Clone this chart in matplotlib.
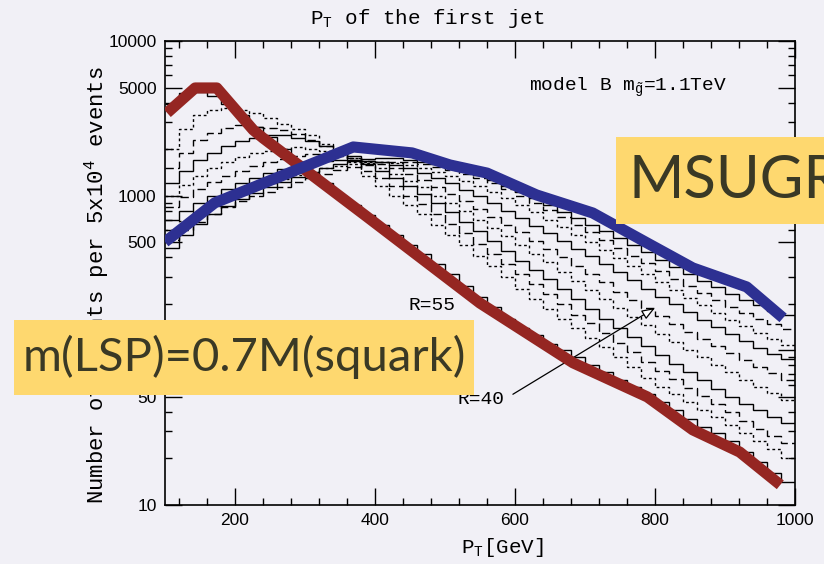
import numpy as np
import matplotlib
matplotlib.use('Agg')
import matplotlib.pyplot as plt
from matplotlib.patches import Rectangle
from matplotlib.ticker import LogLocator, NullFormatter

# bins: 20 GeV from 100 to 1000 GeV
pt_edges = np.arange(100, 1001, 20)

# jet pT histograms (events per bin), softest -> hardest
h0 = [3900, 4600, 4700, 4400, 3900, 3300, 2800, 2400, 2000, 1650, 1400, 1200, 1000, 870, 750,
      650, 560, 480, 420, 360, 310, 260, 220, 190, 160, 140, 125, 110, 100, 90,
      80, 72, 64, 58, 52, 46, 41, 36, 32, 29, 26, 22, 19, 16, 14]
h1 = [2000, 2700, 3300, 3600, 3700, 3600, 3400, 3200, 2900, 2700, 2450, 2150, 1900, 1650, 1350,
      1150, 1000, 870, 760, 650, 560, 480, 410, 350, 300, 250, 215, 185, 160, 140,
      120, 105, 90, 78, 66, 58, 52, 46, 41, 37, 33, 29, 26, 23, 20]
h2 = [1500, 1900, 2300, 2550, 2750, 2850, 2800, 2750, 2650, 2500, 2300, 2100, 1900, 1700, 1450,
      1300, 1150, 1000, 880, 760, 660, 570, 490, 420, 360, 310, 270, 230, 200, 170,
      150, 130, 112, 97, 84, 73, 65, 57, 51, 45, 40, 35, 31, 28, 25]
h3 = [1200, 1450, 1700, 1900, 2100, 2250, 2350, 2450, 2450, 2350, 2250, 2100, 1950, 1800, 1600,
      1450, 1300, 1150, 1020, 900, 780, 680, 590, 510, 440, 380, 330, 290, 250, 215,
      185, 160, 140, 122, 106, 93, 82, 72, 64, 56, 50, 45, 41, 37, 34]
h4 = [1000, 1180, 1350, 1500, 1650, 1780, 1880, 1950, 2000, 2050, 2000, 1950, 1850, 1750, 1620,
      1500, 1380, 1250, 1130, 1000, 900, 800, 700, 620, 550, 480, 420, 370, 320, 280,
      245, 215, 188, 165, 145, 128, 113, 100, 90, 80, 72, 64, 58, 53, 48]
h5 = [850, 980, 1100, 1230, 1350, 1450, 1550, 1650, 1720, 1800, 1850, 1850, 1800, 1750, 1680,
      1600, 1500, 1380, 1260, 1140, 1030, 920, 820, 730, 650, 580, 510, 450, 400, 350,
      310, 275, 240, 212, 188, 166, 148, 132, 118, 106, 96, 86, 78, 71, 64]
h6 = [700, 800, 900, 1000, 1100, 1200, 1300, 1400, 1480, 1560, 1620, 1680, 1700, 1700, 1680,
      1650, 1580, 1500, 1400, 1300, 1200, 1090, 990, 890, 800, 720, 640, 570, 510, 455,
      405, 360, 320, 285, 250, 222, 198, 176, 158, 142, 128, 115, 104, 95, 88]
h7 = [600, 690, 780, 860, 950, 1030, 1120, 1200, 1280, 1360, 1430, 1500, 1560, 1610, 1640,
      1650, 1620, 1570, 1500, 1420, 1340, 1250, 1150, 1050, 960, 870, 780, 700, 630, 560,
      500, 445, 395, 350, 310, 275, 245, 218, 195, 175, 158, 143, 130, 118, 108]
h8 = [520, 600, 680, 760, 840, 920, 990, 1060, 1140, 1220, 1300, 1380, 1460, 1530, 1590,
      1640, 1660, 1640, 1600, 1540, 1470, 1390, 1300, 1200, 1100, 1000, 900, 810, 730, 650,
      580, 515, 460, 410, 365, 325, 290, 260, 235, 212, 192, 175, 160, 148, 138]
h9 = [460, 560, 660, 760, 860, 950, 1040, 1130, 1220, 1320, 1420, 1520, 1600, 1680, 1730,
      1750, 1740, 1710, 1660, 1600, 1530, 1450, 1360, 1260, 1160, 1060, 960, 870, 790, 720,
      650, 590, 530, 480, 430, 385, 345, 310, 280, 255, 232, 212, 195, 180, 168]
hists = [h0, h1, h2, h3, h4, h5, h6, h7, h8, h9]
styles = ['-', (0, (2, 2)), (0, (6, 3)), '-', (0, (2, 2)), (0, (6, 3)),
          '-', (0, (2, 2)), (0, (6, 3)), '-']

# hand drawn overlay curves
red_x = [103, 143, 174, 226, 240, 389, 550, 683, 789, 854, 921, 979]
red_y = [3430, 4970, 4970, 2660, 2360, 728, 202, 83, 50, 30.6, 22, 13.5]
blue_x = [100, 171, 369, 453, 507, 560, 631, 711, 789, 854, 931, 983]
blue_y = [502, 898, 2065, 1890, 1580, 1400, 1010, 773, 494, 341, 257, 162]

y_ticks = [10, 50, 100, 500, 1000, 5000, 10000]
y_labels = ['10', '50', '100', '500', '1000', '5000', '10000']
x_ticks = [200, 400, 600, 800, 1000]

bg = '#f1f0f6'
serif = 'Liberation Mono'
plt.rcParams['mathtext.fontset'] = 'custom'
plt.rcParams['mathtext.rm'] = serif
plt.rcParams['mathtext.it'] = serif + ':italic'
plt.rcParams['mathtext.bf'] = serif + ':bold'

fig = plt.figure(figsize=(8.24, 5.64), dpi=100, facecolor=bg)
ax = fig.add_axes([165 / 824, 1 - 505 / 564, 630 / 824, 464 / 564])
ax.set_facecolor('none')

for h, ls in zip(hists, styles):
    ax.stairs(h, pt_edges, color='black', lw=1.0, linestyle=ls, baseline=None)

ax.plot(red_x, red_y, color='#952622', lw=8, solid_joinstyle='round',
        solid_capstyle='butt', zorder=4)
ax.plot(blue_x, blue_y, color='#2d3092', lw=8, solid_joinstyle='round',
        solid_capstyle='butt', zorder=4)

ax.set_yscale('log')
ax.set_xlim(100, 1000)
ax.set_ylim(10, 10000)
ax.set_yticks(y_ticks)
ax.set_yticklabels(y_labels)
ax.yaxis.set_minor_locator(LogLocator(base=10, subs=np.arange(2, 10)))
ax.yaxis.set_minor_formatter(NullFormatter())
ax.set_xticks(x_ticks)
ax.set_xticks(np.arange(120, 1000, 40), minor=True)
ax.tick_params(which='both', direction='in', top=True, right=True, width=1.0)
ax.tick_params(which='major', length=12, pad=6, labelsize=12.5)
ax.tick_params(which='minor', length=5)
for lab in ax.get_xticklabels() + ax.get_yticklabels():
    lab.set_family('Liberation Sans')
for s in ax.spines.values():
    s.set_linewidth(1.2)

ax.set_ylabel('Number of events per 5x10$^4$ events', family=serif, fontsize=16)
ax.yaxis.set_label_coords(-0.085, 0.474)
ax.set_xlabel('P$_{\\rm T}$[GeV]', family=serif, fontsize=15)
ax.xaxis.set_label_coords((502 - 165) / 630, -0.066)

fig.text(427 / 824, 1 - 18 / 564, 'P$_{\\rm T}$ of the first jet', family=serif,
         fontsize=15, ha='center', va='center')
ax.text(0.735, 0.899, 'model B m$_{\\tilde{\\rm g}}$=1.1TeV', transform=ax.transAxes,
        family=serif, fontsize=14, ha='center', va='center')
ax.text(481, 196, 'R=55', family=serif, fontsize=14, ha='center', va='center')
ax.text(551, 48, 'R=40', family=serif, fontsize=14, ha='center', va='center')
ax.annotate('', xy=(800, 188), xytext=(597, 52),
            arrowprops=dict(arrowstyle='-|>,head_length=0.8,head_width=0.3',
                            fc='white', ec='black', lw=0.9, shrinkA=0, shrinkB=0))

# yellow call-out boxes
box1 = Rectangle((616 / 824, 1 - 224 / 564), 208 / 824, 87 / 564,
                 transform=fig.transFigure, fc='#fed86f', ec='none', zorder=5)
fig.add_artist(box1)
t1 = fig.text(628 / 824, 1 - 181 / 564, 'MSUGRA', family='Lato', fontsize=43,
              color='#3a3925', ha='left', va='center', zorder=6)
t1.set_clip_path(box1)
fig.add_artist(Rectangle((14 / 824, 1 - 395 / 564), 460 / 824, 75 / 564,
                         transform=fig.transFigure, fc='#fed86f', ec='none', zorder=5))
fig.text(244 / 824, 1 - 357 / 564, 'm(LSP)=0.7M(squark)', family='Lato', fontsize=34,
         color='#3a3925', ha='center', va='center', zorder=6)

fig.savefig('out.png', dpi=100, facecolor=bg)
